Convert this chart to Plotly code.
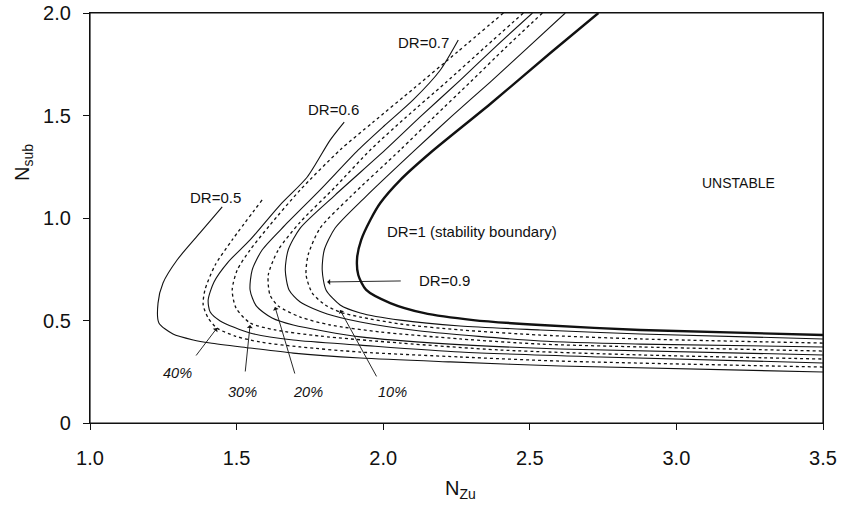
import plotly.graph_objects as go

# ---- data (x = N_Zu, y = N_sub) ----
dr05_x = [1.451, 1.375, 1.297, 1.249, 1.232, 1.235, 1.283, 1.352, 1.410, 1.546, 1.693, 1.922, 2.229, 2.604, 3.5]
dr05_y = [1.054, 0.927, 0.795, 0.683, 0.585, 0.488, 0.434, 0.405, 0.390, 0.366, 0.341, 0.317, 0.298, 0.278, 0.249]

p40_x = [1.587, 1.485, 1.427, 1.392, 1.386, 1.403, 1.433, 1.495, 1.580, 1.717, 1.922, 2.263, 2.604, 3.5]
p40_y = [1.088, 0.893, 0.771, 0.649, 0.576, 0.512, 0.463, 0.424, 0.395, 0.371, 0.346, 0.322, 0.302, 0.273]

dr06_x = [1.867, 1.819, 1.741, 1.648, 1.546, 1.471, 1.423, 1.403, 1.410, 1.444, 1.546, 1.693, 1.922, 2.263, 2.741, 3.5]
dr06_y = [1.468, 1.380, 1.200, 1.063, 0.893, 0.785, 0.688, 0.600, 0.541, 0.498, 0.439, 0.405, 0.380, 0.346, 0.322, 0.293]

p30_x = [2.410, 2.253, 2.106, 1.966, 1.853, 1.717, 1.614, 1.546, 1.502, 1.485, 1.498, 1.546, 1.631, 1.785, 2.058, 2.399, 2.877, 3.5]
p30_y = [2.000, 1.810, 1.634, 1.468, 1.332, 1.137, 0.966, 0.844, 0.746, 0.649, 0.561, 0.488, 0.454, 0.424, 0.390, 0.356, 0.332, 0.312]

dr07_x = [2.256, 2.195, 2.102, 2.007, 1.915, 1.785, 1.666, 1.587, 1.553, 1.546, 1.567, 1.621, 1.693, 1.922, 2.229, 2.604, 3.5]
dr07_y = [1.868, 1.722, 1.576, 1.454, 1.332, 1.137, 0.966, 0.844, 0.746, 0.649, 0.571, 0.512, 0.478, 0.420, 0.385, 0.361, 0.332]

p20_x = [2.478, 2.348, 2.212, 2.075, 1.956, 1.836, 1.717, 1.642, 1.608, 1.614, 1.642, 1.717, 1.819, 1.990, 2.263, 2.536, 2.877, 3.5]
p20_y = [2.000, 1.834, 1.659, 1.488, 1.332, 1.151, 0.980, 0.844, 0.722, 0.624, 0.571, 0.517, 0.478, 0.444, 0.410, 0.385, 0.371, 0.351]

dr08_x = [2.509, 2.382, 2.263, 2.126, 2.007, 1.836, 1.717, 1.676, 1.666, 1.679, 1.717, 1.809, 1.922, 2.126, 2.536, 2.877, 3.5]
dr08_y = [2.000, 1.834, 1.673, 1.493, 1.332, 1.112, 0.951, 0.844, 0.746, 0.649, 0.590, 0.532, 0.493, 0.449, 0.400, 0.385, 0.371]

p10_x = [2.543, 2.416, 2.297, 2.177, 2.058, 1.887, 1.785, 1.744, 1.737, 1.758, 1.802, 1.853, 1.922, 2.058, 2.263, 2.536, 2.877, 3.5]
p10_y = [2.000, 1.829, 1.663, 1.498, 1.332, 1.102, 0.951, 0.820, 0.722, 0.634, 0.576, 0.541, 0.517, 0.483, 0.454, 0.429, 0.410, 0.390]

dr09_x = [2.621, 2.495, 2.365, 2.235, 2.109, 1.939, 1.836, 1.799, 1.792, 1.805, 1.853, 1.922, 2.058, 2.263, 2.536, 2.877, 3.5]
dr09_y = [2.000, 1.834, 1.663, 1.498, 1.332, 1.102, 0.951, 0.844, 0.746, 0.649, 0.576, 0.537, 0.502, 0.473, 0.454, 0.434, 0.410]

dr10_x = [2.734, 2.570, 2.365, 2.160, 2.058, 1.990, 1.956, 1.925, 1.911, 1.915, 1.942, 2.024, 2.137, 2.307, 2.536, 2.877, 3.5]
dr10_y = [2.000, 1.805, 1.556, 1.317, 1.185, 1.073, 0.990, 0.893, 0.805, 0.722, 0.649, 0.585, 0.537, 0.502, 0.478, 0.454, 0.429]

x_ticks = [1.0, 1.5, 2.0, 2.5, 3.0, 3.5]
x_tick_text = ["1.0", "1.5", "2.0", "2.5", "3.0", "3.5"]
y_ticks = [0, 0.5, 1.0, 1.5, 2.0]
y_tick_text = ["0", "0.5", "1.0", "1.5", "2.0"]

FONT = "Arial, Liberation Sans, sans-serif"
INK = "#111111"

fig = go.Figure()

def add(xs, ys, width=1.1, dash="solid"):
    fig.add_trace(go.Scatter(x=xs, y=ys, mode="lines", hoverinfo="skip",
                             line=dict(color=INK, width=width, dash=dash,
                                       shape="spline", smoothing=0.7),
                             showlegend=False))

add(dr05_x, dr05_y)
add(p40_x, p40_y, 1.3, "dot")
add(dr06_x, dr06_y)
add(p30_x, p30_y, 1.3, "dot")
add(dr07_x, dr07_y)
add(p20_x, p20_y, 1.3, "dot")
add(dr08_x, dr08_y)
add(p10_x, p10_y, 1.3, "dot")
add(dr09_x, dr09_y)
add(dr10_x, dr10_y, 2.4)

def label(x, y, text, size=15, xanchor="center"):
    fig.add_annotation(x=x, y=y, text=text, showarrow=False, xanchor=xanchor,
                       yanchor="middle",
                       font=dict(family=FONT, size=size, color=INK))

label(1.427, 1.102, "DR=0.5")
label(1.829, 1.527, "DR=0.6")
label(2.137, 1.854, "DR=0.7")
label(2.007, 0.932, "DR=1 (stability boundary)", xanchor="left")
label(2.116, 0.693, "DR=0.9", xanchor="left")
label(3.212, 1.171, "UNSTABLE", size=14)
label(1.297, 0.244, "<i>40%</i>", size=14.5)
label(1.519, 0.151, "<i>30%</i>", size=14.5)
label(1.744, 0.151, "<i>20%</i>", size=14.5)
label(2.031, 0.151, "<i>10%</i>", size=14.5)

def arrow(tx, ty, hx, hy):
    fig.add_annotation(x=hx, y=hy, ax=tx, ay=ty, axref="x", ayref="y",
                       xref="x", yref="y", text="", showarrow=True,
                       arrowhead=1, arrowsize=1.1, arrowwidth=0.9,
                       arrowcolor=INK, standoff=0, startstandoff=0)

arrow(1.358, 0.322, 1.433, 0.463)
arrow(1.529, 0.244, 1.546, 0.478)
arrow(1.700, 0.234, 1.631, 0.566)
arrow(1.980, 0.220, 1.853, 0.551)
arrow(2.065, 0.693, 1.809, 0.688)

# axis titles
fig.add_annotation(xref="paper", yref="paper", x=-0.0914, y=0.634,
                   xanchor="center", yanchor="middle",
                   text="N<sub>sub</sub>", textangle=-90, showarrow=False,
                   font=dict(family=FONT, size=20, color=INK))
fig.add_annotation(xref="paper", yref="paper", x=0.505, y=-0.163,
                   xanchor="center", yanchor="middle",
                   text="N<sub>Zu</sub>", showarrow=False,
                   font=dict(family=FONT, size=20, color=INK))

# plot frame
fig.add_shape(type="rect", xref="paper", yref="paper", x0=0, y0=0, x1=1, y1=1,
              line=dict(color=INK, width=1.2), fillcolor="rgba(0,0,0,0)", layer="above")

axis_common = dict(showgrid=False, zeroline=False, showline=True, linecolor=INK,
                   linewidth=1.2, mirror=True, ticks="outside", ticklen=6,
                   tickcolor=INK, tickwidth=1, automargin=False,
                   ticklabeloverflow="allow",
                   tickfont=dict(family=FONT, size=20, color=INK))

fig.update_xaxes(range=[1.0, 3.5], tickvals=x_ticks, ticktext=x_tick_text,
                 ticklabelstandoff=11, **axis_common)
fig.update_yaxes(range=[0, 2.0], tickvals=y_ticks, ticktext=y_tick_text,
                 ticklabelstandoff=8, **axis_common)

fig.update_layout(width=842, height=509, plot_bgcolor="white", paper_bgcolor="white",
                  margin=dict(l=90, r=19, t=13, b=86, autoexpand=False), showlegend=False)

# remove the page's default 8 px body margin so the figure sits at the window origin
fig.write_html("out.html", config={"displayModeBar": False},
               post_script="document.body.style.margin='0px';")
